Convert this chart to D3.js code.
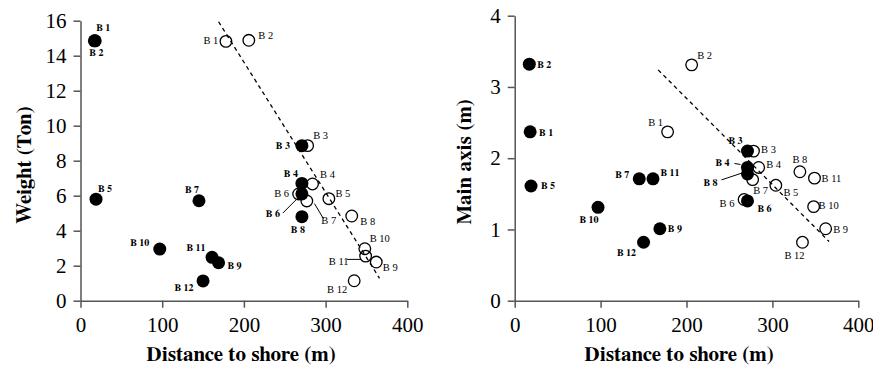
<!DOCTYPE html>
<html>
<head>
<meta charset="utf-8">
<script src="https://cdn.jsdelivr.net/npm/d3@7"></script>
<style>
  body { margin: 0; background: #fff; }
</style>
</head>
<body>
<svg id="chart" width="873" height="369"></svg>
<script>
// ---- data -------------------------------------------------------------
const boulders = ["1", "2", "3", "4", "5", "6", "7", "8", "9", "10", "11", "12"];

// distance to shore (m) of each boulder, solid and hollow series
const distSolid  = [18, 17, 271, 271, 19, 271, 145, 271, 169, 97, 161, 150];
const distHollow = [178, 206, 278, 284, 304, 267, 277, 332, 362, 348, 349, 335];

// weight (ton)
const weightSolid  = [14.85, 14.85, 8.86, 6.70, 5.80, 6.10, 5.71, 4.80, 2.17, 2.95, 2.48, 1.13];
const weightHollow = [14.82, 14.88, 8.86, 6.67, 5.83, 6.10, 5.70, 4.84, 2.21, 2.97, 2.55, 1.14];

// main axis (m)
const axisSolid  = [2.37, 3.32, 2.10, 1.87, 1.61, 1.40, 1.71, 1.78, 1.01, 1.31, 1.71, 0.82];
const axisHollow = [2.37, 3.31, 2.10, 1.87, 1.62, 1.42, 1.70, 1.81, 1.01, 1.32, 1.72, 0.82];

// trend lines through the hollow series (end points)
const weightTrendDist = [169, 366];
const weightTrendVal  = [15.94, 1.28];
const axisTrendDist   = [167, 366];
const axisTrendVal    = [3.24, 0.83];

// tick labels
const distTicks   = [0, 100, 200, 300, 400];
const weightTicks = [0, 2, 4, 6, 8, 10, 12, 14, 16];
const axisTicks   = [0, 1, 2, 3, 4];

// ---- label layout (pixel offsets from each marker) --------------------
const weightSolidLab = [[8,-13],[2,12],[-19,0],[-11,-9],[9,-10],[-29,20],[-7,-11],[-4,13],[16,3],[-20,-6],[-16,-9],[-19,7]];
const weightHollowLab = [[-15,-1],[17,-5],[13,-10],[15,-9],[14,-5],[-17,0],[22,20],[16,5],[14,5],[15,-10],[-27,5],[-17,9]];
const weightLeaders = [
  { series: "solid",  i: 5,  seg: [-19, 19, -3, 3] },
  { series: "hollow", i: 6,  seg: [7.6, 2.6, 16.6, 17.6] },
  { series: "hollow", i: 10, seg: [-18.7, 3.3, -4.5, 3.3] }
];
const axisSolidLab = [[16,1],[15,1],[-12,-10],[-25,-4],[17,0],[17,8],[-17,-4],[-37,9],[15,0],[-9,13],[17,-6],[-17,11]];
const axisHollowLab = [[-12,-9],[13,-9],[15,-2],[15,-3],[15,7],[-17,4],[8,11],[0,-12],[15,1],[15,-1],[17,0],[-8,13]];
const axisLeaders = [
  { series: "solid", i: 3, seg: [-13, -4, -7, -3] },
  { series: "solid", i: 7, seg: [-26, 6, -5, -1] }
];

const REG = "font-family:'Liberation Serif','Times New Roman',serif;font-weight:normal";
const BOLD = "font-family:FreeSerif,'Liberation Serif',serif;font-weight:bold";

const svg = d3.select("#chart");

function drawPanel(cfg) {
  const x = d3.scaleLinear().domain([0, 400]).range(cfg.xRange);
  const y = d3.scaleLinear().domain(cfg.yDomain).range(cfg.yRange);
  const g = svg.append("g");

  // axes
  const xAxis = g.append("g")
    .attr("transform", `translate(0,${cfg.yRange[0]})`)
    .call(d3.axisBottom(x).tickValues(distTicks).tickFormat(d3.format("d"))
      .tickSize(7).tickPadding(9).tickSizeOuter(0));
  const yAxis = g.append("g")
    .attr("transform", `translate(${cfg.xRange[0]},0)`)
    .call(d3.axisLeft(y).tickValues(cfg.yTicks).tickFormat(d3.format("d"))
      .tickSize(7).tickPadding(7).tickSizeOuter(0));
  [xAxis, yAxis].forEach(a => {
    a.selectAll("path, line").attr("stroke", "#555").attr("stroke-width", 1.5);
    a.selectAll("text").attr("style", REG + ";font-size:21px").attr("fill", "#000");
  });

  // trend line
  g.append("line")
    .attr("x1", x(cfg.trendDist[0])).attr("y1", y(cfg.trendVal[0]))
    .attr("x2", x(cfg.trendDist[1])).attr("y2", y(cfg.trendVal[1]))
    .attr("stroke", "#000").attr("stroke-width", 1.3).attr("stroke-dasharray", "4,3.5");

  const solid = boulders.map((b, i) => ({ b, i, px: x(distSolid[i]), py: y(cfg.solid[i]) }));
  const hollow = boulders.map((b, i) => ({ b, i, px: x(distHollow[i]), py: y(cfg.hollow[i]) }));

  // leader lines
  cfg.leaders.forEach(l => {
    const p = (l.series === "solid" ? solid : hollow)[l.i];
    g.append("line")
      .attr("x1", p.px + l.seg[0]).attr("y1", p.py + l.seg[1])
      .attr("x2", p.px + l.seg[2]).attr("y2", p.py + l.seg[3])
      .attr("stroke", "#000").attr("stroke-width", 1);
  });

  // hollow markers, then solid markers on top
  g.selectAll("circle.hollow").data(hollow).join("circle")
    .attr("class", "hollow")
    .attr("cx", d => d.px).attr("cy", d => d.py).attr("r", 5.8)
    .attr("fill", "none").attr("stroke", "#000").attr("stroke-width", 1.3);
  g.selectAll("circle.solid").data(solid).join("circle")
    .attr("class", "solid")
    .attr("cx", d => d.px).attr("cy", d => d.py).attr("r", 6.5)
    .attr("fill", "#000");

  // labels
  g.selectAll("text.hl").data(hollow).join("text")
    .attr("class", "hl")
    .attr("x", d => d.px + cfg.hollowLab[d.i][0])
    .attr("y", d => d.py + cfg.hollowLab[d.i][1])
    .attr("text-anchor", "middle").attr("dominant-baseline", "central")
    .attr("style", REG + ";font-size:10.5px")
    .text(d => "B " + d.b);
  g.selectAll("text.sl").data(solid).join("text")
    .attr("class", "sl")
    .attr("x", d => d.px + cfg.solidLab[d.i][0])
    .attr("y", d => d.py + cfg.solidLab[d.i][1])
    .attr("text-anchor", "middle").attr("dominant-baseline", "central")
    .attr("style", BOLD + ";font-size:10px")
    .text(d => "B " + d.b);

  // titles
  g.append("text")
    .attr("x", cfg.xTitleX).attr("y", 361)
    .attr("text-anchor", "middle").attr("style", BOLD + ";font-size:21px")
    .text("Distance to shore (m)");
  g.append("text")
    .attr("transform", `translate(${cfg.yTitleX},${cfg.yTitleY}) rotate(-90)`)
    .attr("text-anchor", "middle").attr("style", BOLD + ";font-size:21px")
    .text(cfg.yTitle);
}

drawPanel({
  xRange: [80.5, 407.3], yRange: [300.7, 20.7], yDomain: [0, 16], yTicks: weightTicks,
  solid: weightSolid, hollow: weightHollow,
  solidLab: weightSolidLab, hollowLab: weightHollowLab, leaders: weightLeaders,
  trendDist: weightTrendDist, trendVal: weightTrendVal,
  xTitleX: 241, yTitleX: 31, yTitleY: 165, yTitle: "Weight (Ton)"
});

drawPanel({
  xRange: [514.7, 858.3], yRange: [300.7, 15.7], yDomain: [0, 4], yTicks: axisTicks,
  solid: axisSolid, hollow: axisHollow,
  solidLab: axisSolidLab, hollowLab: axisHollowLab, leaders: axisLeaders,
  trendDist: axisTrendDist, trendVal: axisTrendVal,
  xTitleX: 679, yTitleX: 471, yTitleY: 162, yTitle: "Main axis (m)"
});
</script>
</body>
</html>
